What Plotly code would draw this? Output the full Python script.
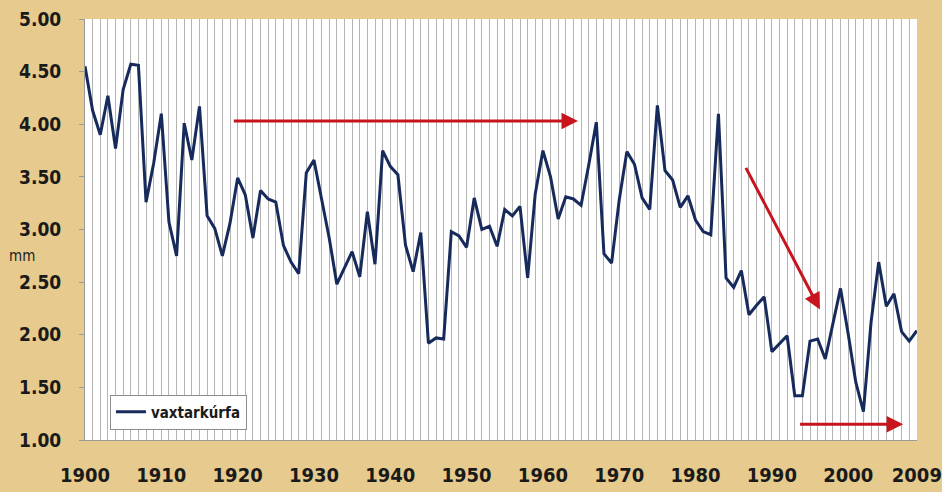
import plotly.graph_objects as go

years = list(range(1900, 2010))
growth = [
    4.55, 4.13, 3.90, 4.27, 3.77, 4.33, 4.57, 4.56, 3.26, 3.63,
    4.10, 3.07, 2.75, 4.01, 3.66, 4.17, 3.13, 3.01, 2.75, 3.06,
    3.49, 3.33, 2.92, 3.37, 3.29, 3.26, 2.85, 2.69, 2.58, 3.54,
    3.66, 3.30, 2.92, 2.48, 2.63, 2.79, 2.55, 3.17, 2.67, 3.75,
    3.60, 3.52, 2.85, 2.60, 2.97, 1.92, 1.97, 1.96, 2.98, 2.94,
    2.83, 3.30, 3.00, 3.03, 2.84, 3.19, 3.13, 3.22, 2.54, 3.34,
    3.75, 3.50, 3.10, 3.31, 3.29, 3.23, 3.61, 4.02, 2.77, 2.68,
    3.28, 3.74, 3.62, 3.30, 3.19, 4.18, 3.56, 3.47, 3.21, 3.32,
    3.09, 2.98, 2.95, 4.10, 2.54, 2.45, 2.61, 2.19, 2.28, 2.36,
    1.84, 1.92, 1.99, 1.42, 1.42, 1.94, 1.96, 1.77, 2.09, 2.44,
    2.01, 1.55, 1.27, 2.12, 2.69, 2.27, 2.39, 2.03, 1.94, 2.04,
]
series_name = "vaxtarkúrfa"
x_tick_vals = [1900, 1910, 1920, 1930, 1940, 1950, 1960, 1970, 1980, 1990, 2000, 2009]
x_tick_text = [str(v) for v in x_tick_vals]
y_tick_vals = [1.0, 1.5, 2.0, 2.5, 3.0, 3.5, 4.0, 4.5, 5.0]
y_unit = "mm"

# arrows: (tail_x, tail_y, head_x, head_y)
arrows = [
    (1919.3, 4.03, 1964.6, 4.03),
    (1986.5, 3.60, 1996.3, 2.24),
    (1993.5, 1.15, 2007.2, 1.15),
]

font_fam = "Liberation Sans Narrow, DejaVu Sans Condensed, Roboto, sans-serif"
bg = "#e6ca8e"

fig = go.Figure()
fig.add_trace(go.Scatter(
    x=years, y=growth, mode="lines", name=series_name,
    line=dict(color="#172a5c", width=3),
    showlegend=True,
))

for tx, ty, hx, hy in arrows:
    fig.add_annotation(
        x=hx, y=hy, ax=tx, ay=ty, xref="x", yref="y", axref="x", ayref="y",
        text="", showarrow=True, arrowhead=2, arrowsize=1.1, arrowwidth=3,
        arrowcolor="#c8141c", standoff=0,
    )

fig.add_annotation(
    xref="paper", yref="paper", x=(22 - 85) / 832, y=(440 - 256) / 421,
    xanchor="center", yanchor="middle", text=y_unit, showarrow=False,
    font=dict(family=font_fam, size=15, color="#222222"),
)

fig.update_layout(
    width=942, height=492,
    margin=dict(l=85, r=25, t=19, b=52),
    paper_bgcolor=bg,
    plot_bgcolor="#ffffff",
    font=dict(family=font_fam, color="#1a1a1a"),
    legend=dict(
        x=0.03, y=0.108, xanchor="left", yanchor="top",
        bgcolor="#ffffff", bordercolor="#8c8c8c", borderwidth=1,
        font=dict(family=font_fam, size=15, color="#1a1a1a", weight="bold"),
        itemwidth=30, tracegroupgap=0,
    ),
    xaxis=dict(
        range=[1900, 2009.02], automargin=False,
        tickmode="array", tickvals=x_tick_vals, ticktext=x_tick_text,
        showgrid=True, gridcolor="#b4b4b4", gridwidth=1,
        minor=dict(dtick=1, tick0=1900, showgrid=True, gridcolor="#b4b4b4", gridwidth=1),
        showline=True, linecolor="#9a9a9a", linewidth=1,
        ticks="", ticklabelstandoff=17,
        tickfont=dict(family=font_fam, size=20, color="#1a1a1a", weight="bold"),
        zeroline=False, fixedrange=True,
    ),
    yaxis=dict(
        range=[1.0, 5.0], automargin=False,
        tickmode="array", tickvals=y_tick_vals, tickformat=".2f",
        showgrid=False,
        showline=True, linecolor="#9a9a9a", linewidth=1,
        ticks="outside", ticklen=5, tickcolor="#9a9a9a",
        ticklabelstandoff=14,
        tickfont=dict(family=font_fam, size=19, color="#1a1a1a", weight="bold"),
        zeroline=False, fixedrange=True,
    ),
)

fig.write_html(
    "out.html",
    config={"displayModeBar": False},
    post_script=(
        "document.body.style.margin='0';"
        "document.body.style.background='" + bg + "';"
        "document.body.style.overflow='hidden';"
    ),
)
